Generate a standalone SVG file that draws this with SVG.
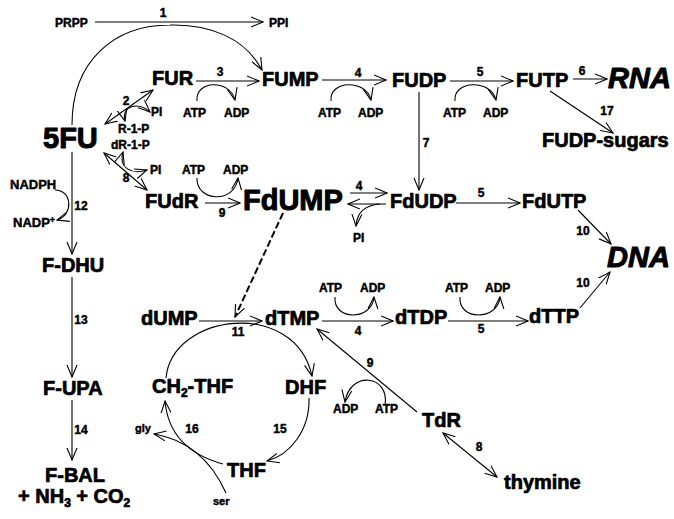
<svg xmlns="http://www.w3.org/2000/svg" width="674" height="519" viewBox="0 0 674 519">
  <style>
    text { font-family: "Liberation Sans", Arial, sans-serif; font-weight: bold; fill: #000; stroke: #000; stroke-width: 0.45; stroke-linejoin: round; }
    .m { font-size: 20px; stroke-width: 0.7; }
    .s { font-size: 12px; }
    .b { font-size: 29px; stroke-width: 1; }
    .i { font-style: italic; }
    .n { font-size: 12px; text-anchor: middle; }
    .e { fill: none; stroke: #000; stroke-width: 1.1; marker-end: url(#ah); }
    .bi { marker-start: url(#ah); }
    .d { fill: none; stroke: #000; stroke-width: 2; stroke-dasharray: 7 3; marker-end: url(#ah); }
  </style>
  <defs>
    <marker id="ah" markerUnits="userSpaceOnUse" markerWidth="13" markerHeight="12" viewBox="0 0 13 12" refX="12" refY="6" orient="auto-start-reverse">
      <path d="M0,1 L12,6 L0,11" fill="none" stroke="#000" stroke-width="1.1"/>
    </marker>
  </defs>

  <!-- connectors -->
  <g id="edges">
    <path class="e" d="M95,22 L263,22"/>
    <path class="e" d="M72,125 C72,60 115,25 170,25 C210,24 245,38 262,70"/>
    <path class="e bi" d="M105,124 L153,90"/>
    <path class="e bi" d="M125,121 C121,106 138,101 150,112"/>
    <path class="e bi" d="M104,153 L147,190"/>
    <path class="e bi" d="M123,152 C118,168 132,175 147,170"/>
    <path class="e" d="M196,81 L259,81"/>
    <path class="e" d="M197,101 C195,80 230,79 235,100"/>
    <path class="e" d="M322,80 L386,80"/>
    <path class="e" d="M331,101 C329,80 366,79 371,100"/>
    <path class="e" d="M450,81 L513,81"/>
    <path class="e" d="M455,101 C453,80 491,79 496,100"/>
    <path class="e" d="M573,79 L607,79"/>
    <path class="e" d="M550,91 L613,133"/>
    <path class="e" d="M419,92 L419,190"/>
    <path class="e" d="M205,203 L240,203"/>
    <path class="e" d="M197,178 C196,202 235,204 238,178"/>
    <path class="e" d="M350,193 L387,193"/>
    <path class="e" d="M386,204 L348,204"/>
    <path class="e" d="M380,204 C365,205 357,212 356,226"/>
    <path class="e" d="M456,203 L520,203"/>
    <path class="e" d="M578,210 L611,244"/>
    <path class="e" d="M580,308 L610,272"/>
    <path class="d" d="M283,213 L235,317"/>
    <path class="e" d="M199,321 L262,321"/>
    <path class="e" d="M322,321 L393,321"/>
    <path class="e" d="M335,297 C333,321 372,321 374,297"/>
    <path class="e" d="M448,321 L528,321"/>
    <path class="e" d="M460,297 C458,321 498,321 500,297"/>
    <path class="e" d="M166,378 C172,313 295,298 312,376"/>
    <path class="e" d="M309,398 C310,430 290,455 267,461"/>
    <path class="e" d="M223,464 C190,455 168,435 165,401"/>
    <path class="e" d="M226,493 C212,462 190,440 154,434"/>
    <path class="e" d="M417,412 L317,329"/>
    <path class="e" d="M385,405 C390,375 350,370 345,402"/>
    <path class="e bi" d="M443,433 L497,477"/>
    <path class="e" d="M72,152 L72,254"/>
    <path class="e" d="M55,190 C72,190 74,215 57,220"/>
    <path class="e" d="M72,277 L72,377"/>
    <path class="e" d="M72,400 L72,460"/>
  </g>

  <!-- reaction numbers -->
  <g id="labels">
    <text class="n" x="163" y="17">1</text>
    <text class="n" x="126" y="105">2</text>
    <text class="n" x="220" y="76">3</text>
    <text class="n" x="358" y="77">4</text>
    <text class="n" x="480" y="76">5</text>
    <text class="n" x="582" y="75">6</text>
    <text class="n" x="607" y="115">17</text>
    <text class="n" x="426" y="147">7</text>
    <text class="n" x="126" y="182">8</text>
    <text class="n" x="222" y="217">9</text>
    <text class="n" x="359" y="190">4</text>
    <text class="n" x="481" y="197">5</text>
    <text class="n" x="583" y="235">10</text>
    <text class="n" x="583" y="287">10</text>
    <text class="n" x="238" y="336">11</text>
    <text class="n" x="358" y="335">4</text>
    <text class="n" x="481" y="333">5</text>
    <text class="n" x="370" y="367">9</text>
    <text class="n" x="280" y="433">15</text>
    <text class="n" x="192" y="433">16</text>
    <text class="n" x="479" y="451">8</text>
    <text class="n" x="81" y="210">12</text>
    <text class="n" x="81" y="324">13</text>
    <text class="n" x="81" y="434">14</text>
  </g>

  <!-- cofactors -->
  <g id="cofactors">
    <text class="s" x="55" y="27">PRPP</text>
    <text class="s" x="269" y="27">PPI</text>
    <text class="s" x="151" y="116">PI</text>
    <text class="s" x="118" y="133">R-1-P</text>
    <text class="s" x="111" y="149">dR-1-P</text>
    <text class="s" x="150" y="174">PI</text>
    <text class="s" x="183" y="117">ATP</text>
    <text class="s" x="224" y="117">ADP</text>
    <text class="s" x="318" y="117">ATP</text>
    <text class="s" x="358" y="117">ADP</text>
    <text class="s" x="443" y="117">ATP</text>
    <text class="s" x="483" y="117">ADP</text>
    <text class="s" x="182" y="174">ATP</text>
    <text class="s" x="223" y="174">ADP</text>
    <text class="s" x="353" y="242">PI</text>
    <text class="s" x="319" y="292">ATP</text>
    <text class="s" x="360" y="292">ADP</text>
    <text class="s" x="445" y="292">ATP</text>
    <text class="s" x="485" y="292">ADP</text>
    <text class="s" x="333" y="413">ADP</text>
    <text class="s" x="375" y="413">ATP</text>
    <text class="s" x="10" y="189" style="font-size:13px">NADPH</text>
    <text class="s" x="13" y="227" style="font-size:13px">NADP<tspan dy="-4" style="font-size:9px">+</tspan></text>
    <text class="s" x="135" y="432" style="font-size:11px">gly</text>
    <text class="s" x="213" y="505" style="font-size:11px">ser</text>
  </g>

  <!-- metabolites -->
  <g id="n-5fu"><text class="b" x="43" y="148">5FU</text></g>
  <g id="n-fur"><text class="m" x="152" y="85">FUR</text></g>
  <g id="n-fump"><text class="m" x="262" y="86">FUMP</text></g>
  <g id="n-fudp"><text class="m" x="392" y="87">FUDP</text></g>
  <g id="n-futp"><text class="m" x="516" y="87">FUTP</text></g>
  <g id="n-rna"><text class="b i" x="608" y="88">RNA</text></g>
  <g id="n-fudp-sugars"><text class="m" x="542" y="147">FUDP-sugars</text></g>
  <g id="n-fudr"><text class="m" x="145" y="208">FUdR</text></g>
  <g id="n-fdump"><text class="b" x="243" y="210">FdUMP</text></g>
  <g id="n-fdudp"><text class="m" x="390" y="208">FdUDP</text></g>
  <g id="n-fdutp"><text class="m" x="522" y="208">FdUTP</text></g>
  <g id="n-dna"><text class="b i" x="607" y="267">DNA</text></g>
  <g id="n-dump"><text class="m" x="141" y="325">dUMP</text></g>
  <g id="n-dtmp"><text class="m" x="265" y="325">dTMP</text></g>
  <g id="n-dtdp"><text class="m" x="395" y="324">dTDP</text></g>
  <g id="n-dttp"><text class="m" x="529" y="323">dTTP</text></g>
  <g id="n-ch2thf"><text class="m" x="152" y="393">CH<tspan dy="4" style="font-size:12px">2</tspan><tspan dy="-4">-THF</tspan></text></g>
  <g id="n-dhf"><text class="m" x="285" y="394">DHF</text></g>
  <g id="n-thf"><text class="m" x="227" y="477">THF</text></g>
  <g id="n-tdr"><text class="m" x="422" y="427">TdR</text></g>
  <g id="n-thymine"><text class="m" x="504" y="489">thymine</text></g>
  <g id="n-fdhu"><text class="m" x="42" y="272">F-DHU</text></g>
  <g id="n-fupa"><text class="m" x="43" y="395">F-UPA</text></g>
  <g id="n-fbal"><text class="m" x="45" y="482">F-BAL</text></g>
  <g id="n-products"><text class="m" x="18" y="503">+ NH<tspan dy="4" style="font-size:12px">3</tspan><tspan dy="-4"> + CO</tspan><tspan dy="4" style="font-size:12px">2</tspan></text></g>
</svg>
